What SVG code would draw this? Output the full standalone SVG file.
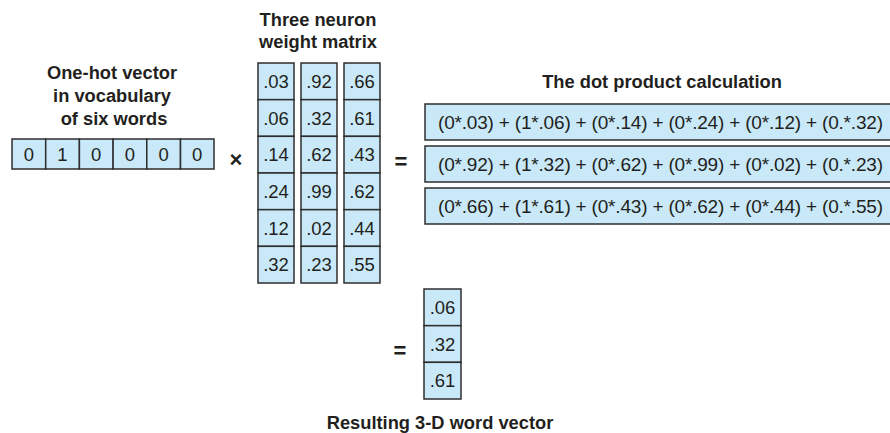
<svg xmlns="http://www.w3.org/2000/svg" width="890" height="433" viewBox="0 0 890 433">
<style>
  .cell { fill: #c9e9f9; stroke: #2e2e2e; stroke-width: 1.5; }
  .num { font-family: "Liberation Sans", Arial, sans-serif; font-size: 18.5px; fill: #231f20; text-anchor: middle; }
  .expr { font-family: "Liberation Sans", Arial, sans-serif; font-size: 19px; fill: #231f20; }
  .title { font-family: "Liberation Sans", Arial, sans-serif; font-size: 18.3px; font-weight: bold; fill: #231f20; text-anchor: middle; }
  .op { font-family: "Liberation Sans", Arial, sans-serif; font-size: 22px; font-weight: bold; fill: #231f20; text-anchor: middle; }
</style>
<rect width="890" height="433" fill="#ffffff"/>

<g id="onehot">
  <text class="title" x="112" y="79">One-hot vector</text>
  <text class="title" x="112" y="102">in vocabulary</text>
  <text class="title" x="114" y="125">of six words</text>
  <rect class="cell" x="12" y="139" width="33.7" height="30"/>
  <rect class="cell" x="45.7" y="139" width="33.7" height="30"/>
  <rect class="cell" x="79.4" y="139" width="33.7" height="30"/>
  <rect class="cell" x="113.1" y="139" width="33.7" height="30"/>
  <rect class="cell" x="146.8" y="139" width="33.7" height="30"/>
  <rect class="cell" x="180.5" y="139" width="33.5" height="30"/>
  <text class="num" x="28.8" y="160.5">0</text>
  <text class="num" x="62.5" y="160.5">1</text>
  <text class="num" x="96.2" y="160.5">0</text>
  <text class="num" x="129.9" y="160.5">0</text>
  <text class="num" x="163.6" y="160.5">0</text>
  <text class="num" x="197.2" y="160.5">0</text>
</g>

<g id="times">
  <text class="op" x="236" y="167">×</text>
</g>

<g id="matrix">
  <text class="title" x="318" y="26">Three neuron</text>
  <text class="title" x="318" y="48">weight matrix</text>
  <g id="col1">
    <rect class="cell" x="258" y="63" width="36" height="36.67"/>
    <rect class="cell" x="258" y="99.67" width="36" height="36.67"/>
    <rect class="cell" x="258" y="136.33" width="36" height="36.67"/>
    <rect class="cell" x="258" y="173" width="36" height="36.67"/>
    <rect class="cell" x="258" y="209.67" width="36" height="36.67"/>
    <rect class="cell" x="258" y="246.33" width="36" height="36.67"/>
    <text class="num" x="276" y="88">.03</text>
    <text class="num" x="276" y="124.5">.06</text>
    <text class="num" x="276" y="161">.14</text>
    <text class="num" x="276" y="197.5">.24</text>
    <text class="num" x="276" y="234.5">.12</text>
    <text class="num" x="276" y="271">.32</text>
  </g>
  <g id="col2">
    <rect class="cell" x="301" y="63" width="36" height="36.67"/>
    <rect class="cell" x="301" y="99.67" width="36" height="36.67"/>
    <rect class="cell" x="301" y="136.33" width="36" height="36.67"/>
    <rect class="cell" x="301" y="173" width="36" height="36.67"/>
    <rect class="cell" x="301" y="209.67" width="36" height="36.67"/>
    <rect class="cell" x="301" y="246.33" width="36" height="36.67"/>
    <text class="num" x="319" y="88">.92</text>
    <text class="num" x="319" y="124.5">.32</text>
    <text class="num" x="319" y="161">.62</text>
    <text class="num" x="319" y="197.5">.99</text>
    <text class="num" x="319" y="234.5">.02</text>
    <text class="num" x="319" y="271">.23</text>
  </g>
  <g id="col3">
    <rect class="cell" x="344" y="63" width="36" height="36.67"/>
    <rect class="cell" x="344" y="99.67" width="36" height="36.67"/>
    <rect class="cell" x="344" y="136.33" width="36" height="36.67"/>
    <rect class="cell" x="344" y="173" width="36" height="36.67"/>
    <rect class="cell" x="344" y="209.67" width="36" height="36.67"/>
    <rect class="cell" x="344" y="246.33" width="36" height="36.67"/>
    <text class="num" x="362" y="88">.66</text>
    <text class="num" x="362" y="124.5">.61</text>
    <text class="num" x="362" y="161">.43</text>
    <text class="num" x="362" y="197.5">.62</text>
    <text class="num" x="362" y="234.5">.44</text>
    <text class="num" x="362" y="271">.55</text>
  </g>
</g>

<g id="equals1">
  <text class="op" x="401" y="169">=</text>
</g>

<g id="dotproduct">
  <text class="title" x="662" y="88">The dot product calculation</text>
  <rect class="cell" x="425" y="104" width="470" height="36"/>
  <rect class="cell" x="425" y="146" width="470" height="36"/>
  <rect class="cell" x="425" y="188" width="470" height="36"/>
  <text class="expr" x="438" y="128.5" textLength="445" lengthAdjust="spacing">(0*.03) + (1*.06) + (0*.14) + (0*.24) + (0*.12) + (0.*.32)</text>
  <text class="expr" x="438" y="170.5" textLength="445" lengthAdjust="spacing">(0*.92) + (1*.32) + (0*.62) + (0*.99) + (0*.02) + (0.*.23)</text>
  <text class="expr" x="438" y="212.5" textLength="445" lengthAdjust="spacing">(0*.66) + (1*.61) + (0*.43) + (0*.62) + (0*.44) + (0.*.55)</text>
</g>

<g id="equals2">
  <text class="op" x="400" y="358">=</text>
</g>

<g id="result">
  <rect class="cell" x="424" y="289" width="37" height="36.67"/>
  <rect class="cell" x="424" y="325.67" width="37" height="36.67"/>
  <rect class="cell" x="424" y="362.33" width="37" height="36.67"/>
  <text class="num" x="442.5" y="314">.06</text>
  <text class="num" x="442.5" y="350.5">.32</text>
  <text class="num" x="442.5" y="387">.61</text>
  <text class="title" x="440" y="429">Resulting 3-D word vector</text>
</g>

<g id="connectors"></g>
</svg>
